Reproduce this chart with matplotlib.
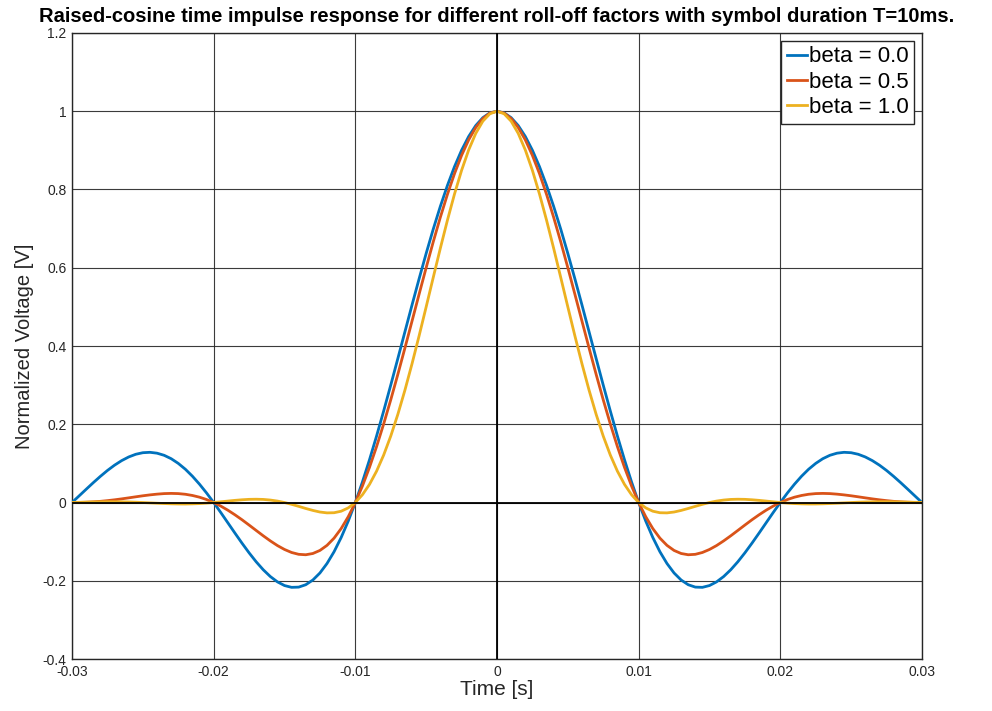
import numpy as np
import matplotlib.pyplot as plt

# time axis and values (0.5 ms steps)
t = np.round(np.arange(-60, 61) * 0.0005, 4)

beta0 = [0, 0.0169, 0.0339, 0.0507, 0.0668, 0.0819, 0.0954, 0.1070, 0.1164, 0.1233,
         0.1273, 0.1283, 0.1261, 0.1207, 0.1120, 0.1000, 0.0851, 0.0672, 0.0468, 0.0243,
         0, -0.0255, -0.0518, -0.0781, -0.1039, -0.1286, -0.1515, -0.1719, -0.1892, -0.2028,
         -0.2122, -0.2168, -0.2162, -0.2101, -0.1981, -0.1801, -0.1559, -0.1257, -0.0894, -0.0474,
         0, 0.0524, 0.1093, 0.1700, 0.2339, 0.3001, 0.3679, 0.4363, 0.5046, 0.5716,
         0.6366, 0.6987, 0.7568, 0.8103, 0.8584, 0.9003, 0.9355, 0.9634, 0.9836, 0.9959,
         1.0,
         0.9959, 0.9836, 0.9634, 0.9355, 0.9003, 0.8584, 0.8103, 0.7568, 0.6987, 0.6366,
         0.5716, 0.5046, 0.4363, 0.3679, 0.3001, 0.2339, 0.1700, 0.1093, 0.0524, 0,
         -0.0474, -0.0894, -0.1257, -0.1559, -0.1801, -0.1981, -0.2101, -0.2162, -0.2168, -0.2122,
         -0.2028, -0.1892, -0.1719, -0.1515, -0.1286, -0.1039, -0.0781, -0.0518, -0.0255, 0,
         0.0243, 0.0468, 0.0672, 0.0851, 0.1000, 0.1120, 0.1207, 0.1261, 0.1283, 0.1273,
         0.1233, 0.1164, 0.1070, 0.0954, 0.0819, 0.0668, 0.0507, 0.0339, 0.0169, 0]

beta05 = [0, 0.0002, 0.0007, 0.0017, 0.0030, 0.0048, 0.0069, 0.0093, 0.0119, 0.0146,
          0.0172, 0.0195, 0.0214, 0.0228, 0.0233, 0.0228, 0.0211, 0.0180, 0.0136, 0.0076,
          0, -0.0091, -0.0196, -0.0314, -0.0441, -0.0576, -0.0714, -0.0851, -0.0981, -0.1100,
          -0.1200, -0.1277, -0.1324, -0.1335, -0.1303, -0.1225, -0.1095, -0.0910, -0.0666, -0.0363,
          0, 0.0422, 0.0900, 0.1430, 0.2008, 0.2625, 0.3275, 0.3948, 0.4634, 0.5322,
          0.6002, 0.6662, 0.7289, 0.7874, 0.8405, 0.8872, 0.9268, 0.9583, 0.9813, 0.9953,
          1.0,
          0.9953, 0.9813, 0.9583, 0.9268, 0.8872, 0.8405, 0.7874, 0.7289, 0.6662, 0.6002,
          0.5322, 0.4634, 0.3948, 0.3275, 0.2625, 0.2008, 0.1430, 0.0900, 0.0422, 0,
          -0.0363, -0.0666, -0.0910, -0.1095, -0.1225, -0.1303, -0.1335, -0.1324, -0.1277, -0.1200,
          -0.1100, -0.0981, -0.0851, -0.0714, -0.0576, -0.0441, -0.0314, -0.0196, -0.0091, 0,
          0.0076, 0.0136, 0.0180, 0.0211, 0.0228, 0.0233, 0.0228, 0.0214, 0.0195, 0.0172,
          0.0146, 0.0119, 0.0093, 0.0069, 0.0048, 0.0030, 0.0017, 0.0007, 0.0002, 0]

beta1 = [0, 0.0005, 0.0010, 0.0014, 0.0018, 0.0020, 0.0020, 0.0018, 0.0014, 0.0008,
         0, -0.0009, -0.0018, -0.0026, -0.0033, -0.0037, -0.0038, -0.0034, -0.0027, -0.0015,
         0, 0.0018, 0.0037, 0.0055, 0.0070, 0.0081, 0.0084, 0.0079, 0.0063, 0.0037,
         0, -0.0046, -0.0098, -0.0152, -0.0202, -0.0243, -0.0265, -0.0261, -0.0222, -0.0137,
         0, 0.0198, 0.0464, 0.0802, 0.1213, 0.1698, 0.2253, 0.2871, 0.3544, 0.4258,
         0.5000, 0.5752, 0.6497, 0.7213, 0.7884, 0.8488, 0.9010, 0.9433, 0.9745, 0.9936,
         1.0,
         0.9936, 0.9745, 0.9433, 0.9010, 0.8488, 0.7884, 0.7213, 0.6497, 0.5752, 0.5000,
         0.4258, 0.3544, 0.2871, 0.2253, 0.1698, 0.1213, 0.0802, 0.0464, 0.0198, 0,
         -0.0137, -0.0222, -0.0261, -0.0265, -0.0243, -0.0202, -0.0152, -0.0098, -0.0046, 0,
         0.0037, 0.0063, 0.0079, 0.0084, 0.0081, 0.0070, 0.0055, 0.0037, 0.0018, 0,
         -0.0015, -0.0027, -0.0034, -0.0038, -0.0037, -0.0033, -0.0026, -0.0018, -0.0009, 0,
         0.0008, 0.0014, 0.0018, 0.0020, 0.0020, 0.0018, 0.0014, 0.0010, 0.0005, 0]

labels = ["beta = 0.0", "beta = 0.5", "beta = 1.0"]
colors = ["#0072BD", "#D95319", "#EDB120"]

xticks = [-0.03, -0.02, -0.01, 0, 0.01, 0.02, 0.03]
xtick_labels = ["-0.03", "-0.02", "-0.01", "0", "0.01", "0.02", "0.03"]
yticks = [-0.4, -0.2, 0, 0.2, 0.4, 0.6, 0.8, 1, 1.2]
ytick_labels = ["-0.4", "-0.2", "0", "0.2", "0.4", "0.6", "0.8", "1", "1.2"]

plt.rcParams['font.family'] = ['Liberation Sans', 'DejaVu Sans']

fig = plt.figure(figsize=(9.92, 7.11), dpi=100)
ax = fig.add_axes([0.0726, 0.0731, 0.8568, 0.8805])

for y, lab, c in zip([beta0, beta05, beta1], labels, colors):
    ax.plot(t, y, color=c, linewidth=2.0, label=lab, zorder=3)

# axis lines through the origin, drawn over the curves
ax.axhline(0, color="black", linewidth=1.3, zorder=4)
ax.axvline(0, color="black", linewidth=1.3, zorder=4)

ax.set_xlim(-0.03, 0.03)
ax.set_ylim(-0.4, 1.2)
ax.set_xticks(xticks)
ax.set_xticklabels(xtick_labels)
ax.set_yticks(yticks)
ax.set_yticklabels(ytick_labels)
ax.tick_params(labelsize=10, colors="#262626", direction="in", length=0, pad=4)
ax.grid(True, color="#262626", linewidth=0.8, alpha=0.9)
ax.set_axisbelow(True)
for s in ax.spines.values():
    s.set_color("#262626")
    s.set_linewidth(1.0)

ax.set_xlabel("Time [s]", fontsize=15, color="#262626", labelpad=1)
ax.set_ylabel("Normalized Voltage [V]", fontsize=14.5, color="#262626", labelpad=6)
ax.set_title("Raised-cosine time impulse response for different roll-off factors with symbol duration T=10ms.",
             fontsize=14.5, fontweight="bold", pad=8)

leg = ax.legend(loc="upper right", fontsize=16, frameon=True, fancybox=False,
                handlelength=0.9, handletextpad=0.1, borderpad=0.25, labelspacing=0.2,
                borderaxespad=0.35)
leg.get_frame().set_edgecolor("#262626")
leg.get_frame().set_linewidth(1.0)
leg.get_frame().set_alpha(1)

fig.savefig("out.png", dpi=100)
